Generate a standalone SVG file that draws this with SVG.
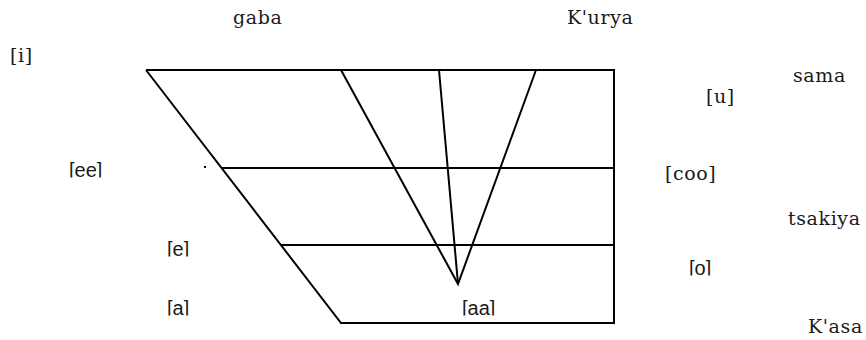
<svg xmlns="http://www.w3.org/2000/svg" width="866" height="340" viewBox="0 0 866 340">
<style>
.ln{stroke:#000;stroke-width:2;fill:none;stroke-linecap:butt}
.sf{font-family:"DejaVu Serif","Liberation Serif",serif;font-size:19px;letter-spacing:0.6px;fill:#1a1a1a}
.ss{font-family:"Liberation Sans","Arial",sans-serif;font-size:20px;fill:#1a1a1a}
</style>
<defs>
<clipPath id="cut" clipPathUnits="userSpaceOnUse">
<rect x="60" y="150" width="60" height="27.5"/>
<rect x="160" y="230" width="40" height="26.5"/>
<rect x="160" y="290" width="40" height="25.5"/>
<rect x="455" y="290" width="60" height="25.5"/>
<rect x="680" y="250" width="50" height="25.5"/>
</clipPath>
</defs>
<rect width="866" height="340" fill="#fff"/>
<g id="connectors">
<polyline class="ln" points="146,70 614,70 614,323 341,323 146,70"/>
<line class="ln" x1="221" y1="168" x2="614" y2="168"/>
<line class="ln" x1="281" y1="245" x2="614" y2="245"/>
<polyline class="ln" points="341,70 458,284 536,70"/>
<line class="ln" x1="439" y1="70" x2="458" y2="284"/>
<rect x="204" y="166" width="2" height="2" fill="#000"/>
</g>
<g id="labels">
<text id="gaba" class="sf" x="233" y="24">gaba</text>
<text id="kurya" class="sf" x="567" y="24">K'urya</text>
<text id="i" class="sf" x="10" y="62">[i]</text>
<text id="sama" class="sf" x="793" y="82">sama</text>
<text id="u" class="sf" x="706" y="103">[u]</text>
<text id="coo" class="sf" x="665" y="180">[coo]</text>
<text id="tsakiya" class="sf" x="788" y="225">tsakiya</text>
<text id="kasa" class="sf" x="808" y="333">K'asa</text>
<g clip-path="url(#cut)">
<text id="ee" class="ss" x="69" y="177">[ee]</text>
<text id="e" class="ss" x="167" y="256">[e]</text>
<text id="a" class="ss" x="167" y="315">[a]</text>
<text id="aa" class="ss" x="462" y="315">[aa]</text>
<text id="o" class="ss" x="689" y="275">[o]</text>
</g>
</g>
</svg>
